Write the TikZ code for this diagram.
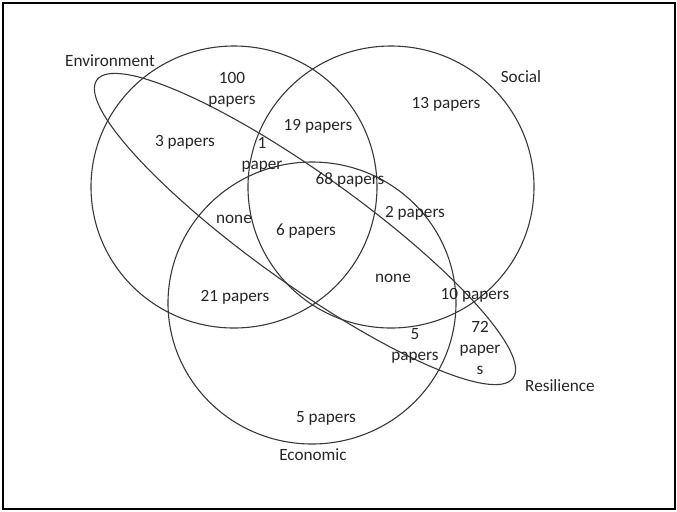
\documentclass[tikz,border=0pt]{standalone}
\usepackage{fontspec}
\setmainfont{Carlito}

\begin{document}
\begin{tikzpicture}[x=0.5pt, y=-0.5pt]

        % Setup the styles for the sets and the counts
        \tikzset{venn circle/.style={draw=black!78,
                                     line width=.55pt
                                     },
                 count label/.style={text=black!85,
                                     align=center,
                                     inner sep=0pt,
                                     font=\fontsize{8.6}{10.4}\selectfont
                                     }}

        \useasboundingbox (0,0) rectangle (677,511);

        % Draw the frame
        \draw[line width=1pt] (2.5,2.5) rectangle (675,508.5);

        % Draw the sets
        \draw[venn circle] (234,187) circle [x radius=71.5pt, y radius=70.5pt];
        \draw[venn circle] (391,187) circle [x radius=71.5pt, y radius=70.5pt];
        \draw[venn circle] (312,303) circle [x radius=72pt, y radius=70.5pt];
        \draw[venn circle, rotate around={-35.6:(305,229)}]
            (305,229) ellipse [x radius=128pt, y radius=27.5pt];

        % Name the sets
        \node[count label] at (110,61)  (Environment) {Environment};
        \node[count label] at (521,77)  (Social)      {Social};
        \node[count label] at (313,455) (Economic)    {Economic};
        \node[count label] at (560,386) (Resilience)  {Resilience};

        % Put the counts in the regions
        \node[count label] at (232,90)  (EnvOnly)    {100\\papers};
        \node[count label] at (185,142) (EnvRes)     {3 papers};
        \node[count label] at (318,126) (EnvSoc)     {19 papers};
        \node[count label] at (262,155) (EnvSocRes)  {1\\paper};
        \node[count label] at (446,104) (SocOnly)    {13 papers};
        \node[count label] at (350,180) (SocRes)     {68 papers};
        \node[count label] at (415,213) (SocEcoRes)  {2 papers};
        \node[count label] at (234,219) (EnvEcoRes)  {none};
        \node[count label] at (306,231) (AllFour)    {6 papers};
        \node[count label] at (393,278) (SocEco)     {none};
        \node[count label] at (235,297) (EnvEco)     {21 papers};
        \node[count label] at (475,295) (SocResOut)  {10 papers};
        \node[count label] at (415,346) (EcoRes)     {5\\papers};
        \node[count label] at (480,348) (ResOnly)    {72\\paper\\s};
        \node[count label] at (326,418) (EcoOnly)    {5 papers};

\end{tikzpicture}
\end{document}
